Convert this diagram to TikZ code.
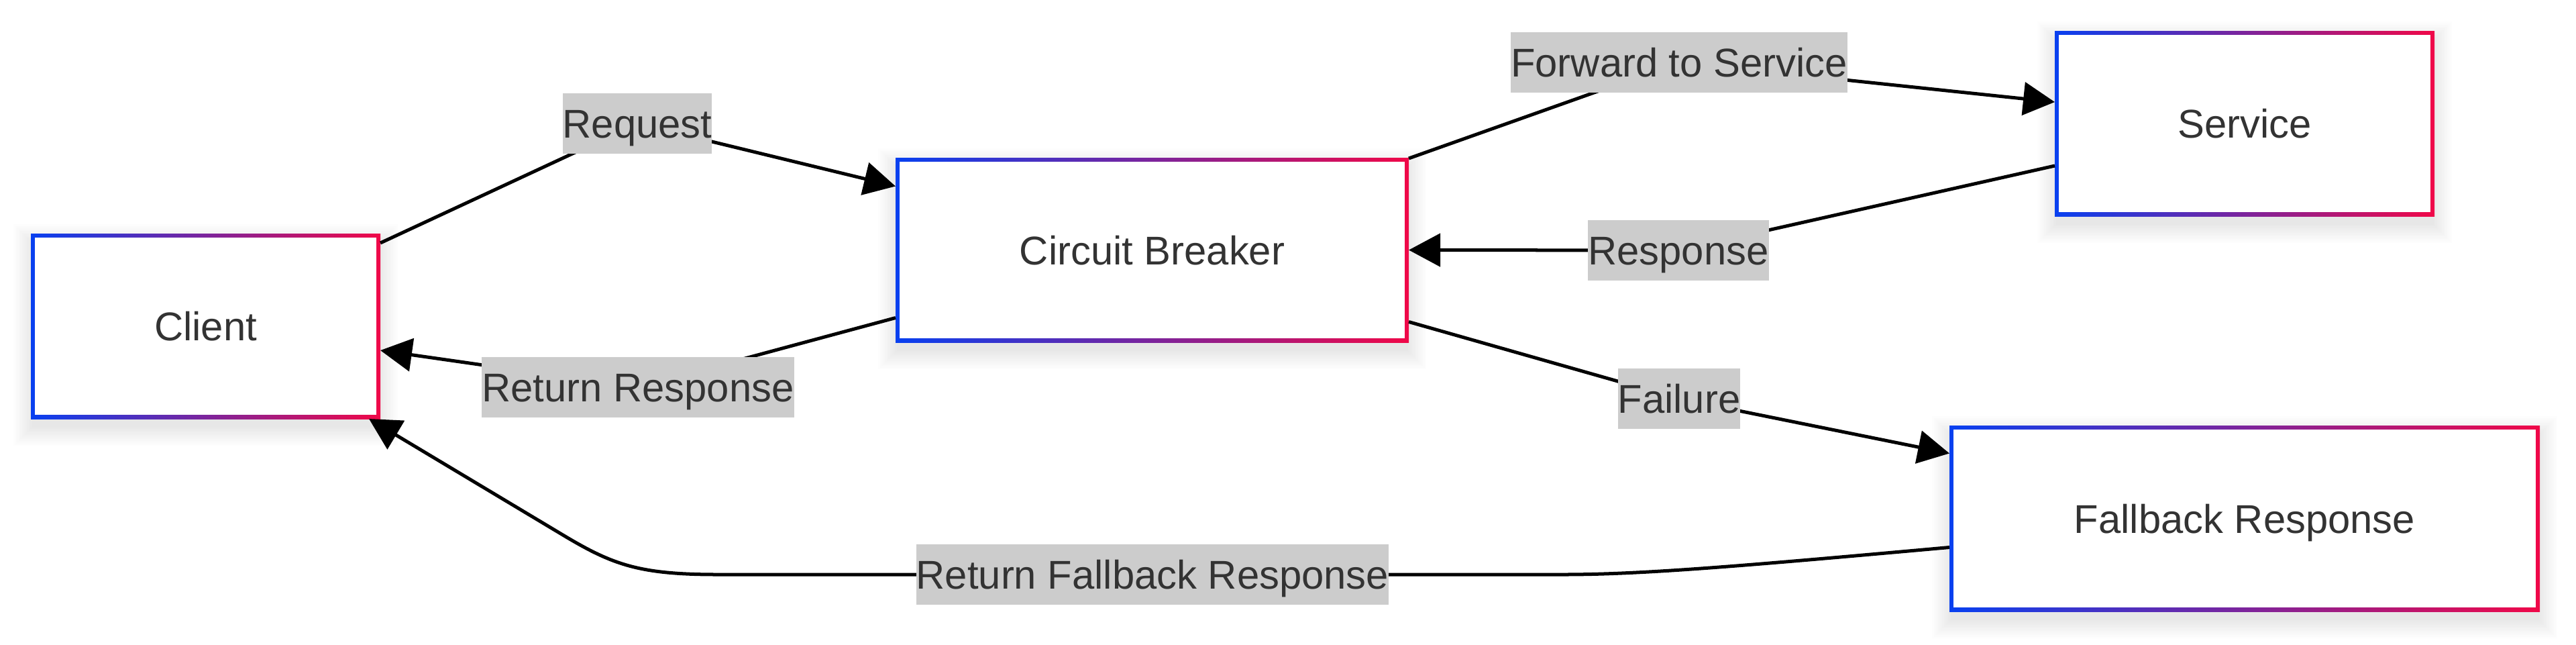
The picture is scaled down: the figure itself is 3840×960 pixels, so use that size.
\documentclass[tikz,border=0pt]{standalone}
\usepackage{fontspec}
\setmainfont{Liberation Sans}
\usetikzlibrary{arrows.meta,calc}
\definecolor{gblue}{RGB}{8,64,240}
\definecolor{gred}{RGB}{240,8,72}
\definecolor{txt}{RGB}{51,51,51}
\definecolor{lblfill}{RGB}{204,204,204}
\pgfdeclarelayer{front}
\pgfsetlayers{main,front}
\tikzset{
  boxtext/.style={draw=none, inner sep=0pt, outer sep=0pt, text=txt,
    font=\fontsize{17pt}{20pt}\selectfont, text height=0.43cm, text depth=0pt},
  lbl/.style={fill=lblfill, inner xsep=0pt, inner ysep=0pt, outer sep=0pt, text=txt,
    font=\fontsize{17pt}{20pt}\selectfont, text height=0.43cm, text depth=0pt,
    minimum height=0.9cm},
  conn/.style={draw=black, line width=0.05cm, line join=round,
    -{Triangle[length=0.47cm,width=0.49cm]}},
}
\newcommand\gbox[6]{%
  \foreach \i in {1,...,12} {
    \fill[black, opacity=0.009] (#2-#4/2-\i*2.5+4, #3-#5/2-\i*2.5+16) rectangle (#2+#4/2+\i*2.5-4, #3+#5/2+\i*2.5+10);
  }
  \shade[left color=gblue, right color=gred] (#2-#4/2,#3-#5/2) rectangle (#2+#4/2,#3+#5/2);
  \fill[white] (#2-#4/2+6,#3-#5/2+6) rectangle (#2+#4/2-6,#3+#5/2-6);
  \node[boxtext, minimum width=#4*0.01cm, minimum height=#5*0.01cm] (#1) at (#2,#3) {#6};
}
\begin{document}
\begin{tikzpicture}[x=0.01cm, y=-0.01cm]
\useasboundingbox (0,0) rectangle (3840,960);
% boxes
\gbox{client}{306.5}{486}{521}{276}{Client}
\gbox{cb}{1717.5}{372.5}{765}{275}{Circuit Breaker}
\gbox{svc}{3346}{184}{566}{276}{Service}
\gbox{fb}{3346}{772.5}{880}{277}{Fallback Response}
% labels
\begin{pgfonlayer}{front}
\node[lbl] (lreq) at (950,184) {Request};
\node[lbl] (lret) at (951,577) {Return Response};
\node[lbl] (lfwd) at (2503,93) {Forward to Service};
\node[lbl] (lresp) at (2502,373) {Response};
\node[lbl] (lfail) at (2503,594) {Failure};
\node[lbl] (lfb) at (1718,856) {Return Fallback Response};
\end{pgfonlayer}
% connectors
\draw[conn] ($(client.north east)+(0,14)$) -- (lreq.center) -- ($(cb.west)+(0,-95)$);
\draw[conn] ($(cb.west)+(0,101)$) -- (lret.center) -- ($(client.east)+(0,36)$);
\draw[conn] ($(cb.north east)+(0,1)$) -- (lfwd.center) -- ($(svc.west)+(0,-32)$);
\draw[conn] ($(svc.west)+(0,63)$) -- (lresp.center) -- (cb.east);
\draw[conn] ($(cb.east)+(0,107)$) -- (lfail.center) -- ($(fb.west)+(0,-97)$);
\draw[conn] ($(fb.west)+(0,43)$) .. controls (2600,843) and (2450,856) .. (2330,856)
  -- (lfb.center) -- (1070,856) .. controls (955,856) and (915,842) .. (844,800)
  -- ($(client.south east)+(-17,0)$);
\end{tikzpicture}
\end{document}
